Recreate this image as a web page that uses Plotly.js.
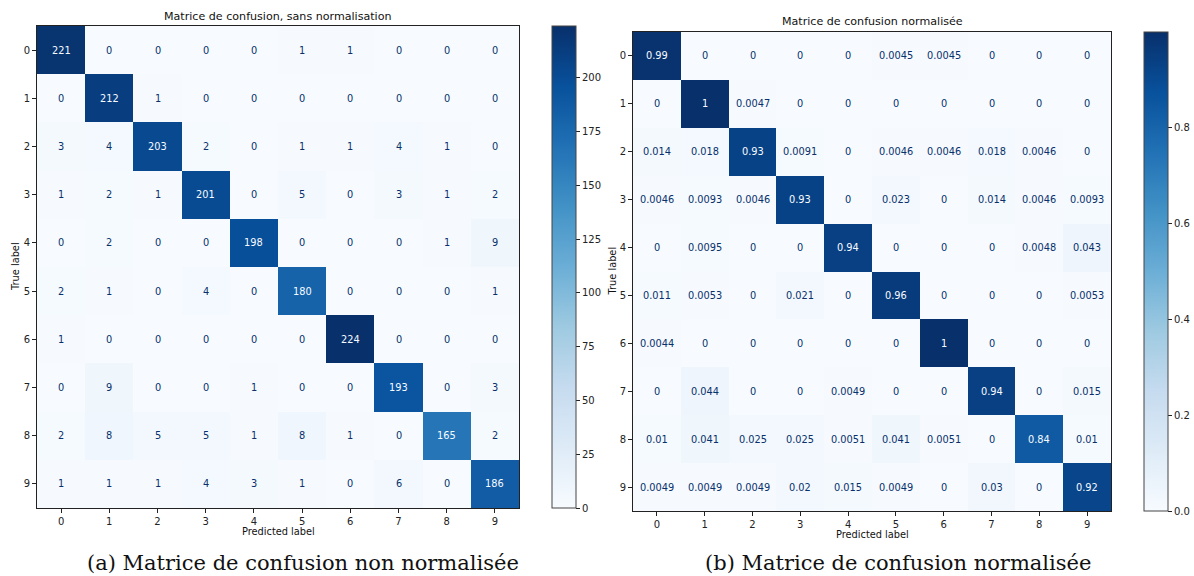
<!DOCTYPE html>
<html>
<head>
<meta charset="utf-8">
<script src="https://cdn.plot.ly/plotly-3.0.1.min.js"></script>
<style>html,body{margin:0;padding:0;background:#fff;}#chart{width:1194px;height:576px;}</style>
</head>
<body>
<div id="chart"></div>
<script>
// ---- data ----
const labels = [0,1,2,3,4,5,6,7,8,9];
const countsMatrix = [
  [221,0,0,0,0,1,1,0,0,0],
  [0,212,1,0,0,0,0,0,0,0],
  [3,4,203,2,0,1,1,4,1,0],
  [1,2,1,201,0,5,0,3,1,2],
  [0,2,0,0,198,0,0,0,1,9],
  [2,1,0,4,0,180,0,0,0,1],
  [1,0,0,0,0,0,224,0,0,0],
  [0,9,0,0,1,0,0,193,0,3],
  [2,8,5,5,1,8,1,0,165,2],
  [1,1,1,4,3,1,0,6,0,186]
];
const normMatrix = [
  [0.99,0,0,0,0,0.0045,0.0045,0,0,0],
  [0,1,0.0047,0,0,0,0,0,0,0],
  [0.014,0.018,0.93,0.0091,0,0.0046,0.0046,0.018,0.0046,0],
  [0.0046,0.0093,0.0046,0.93,0,0.023,0,0.014,0.0046,0.0093],
  [0,0.0095,0,0,0.94,0,0,0,0.0048,0.043],
  [0.011,0.0053,0,0.021,0,0.96,0,0,0,0.0053],
  [0.0044,0,0,0,0,0,1,0,0,0],
  [0,0.044,0,0,0.0049,0,0,0.94,0,0.015],
  [0.01,0.041,0.025,0.025,0.0051,0.041,0.0051,0,0.84,0.01],
  [0.0049,0.0049,0.0049,0.02,0.015,0.0049,0,0.03,0,0.92]
];
const titleA = "Matrice de confusion, sans normalisation";
const titleB = "Matrice de confusion normalisée";
const captionA = "(a) Matrice de confusion non normalisée";
const captionB = "(b) Matrice de confusion normalisée";
const xLabel = "Predicted label";
const yLabel = "True label";
const countTicks = [0,25,50,75,100,125,150,175,200];
const normTicks = [0,0.2,0.4,0.6,0.8];

// ---- style ----
const W = 1194, H = 576;
const blues = [
  [0,'#f7fbff'],[0.125,'#deebf7'],[0.25,'#c6dbef'],[0.375,'#9ecae1'],
  [0.5,'#6baed6'],[0.625,'#4292c6'],[0.75,'#2171b5'],[0.875,'#08519c'],[1,'#08306b']
];
const fx = p => p / W;
const fy = p => 1 - p / H;
const FONT = 'DejaVu Sans, sans-serif';
const SERIF = 'DejaVu Serif, Liberation Serif, serif';

// plot boxes in px
const boxA = {l:37, r:519, t:26, b:508, cbl:552};
const boxB = {l:633, r:1111, t:32, b:511, cbl:1144};

function maxOf(m){ return Math.max(...m.map(r => Math.max(...r))); }
const zmaxA = maxOf(countsMatrix);
const zmaxB = maxOf(normMatrix);

function cbar(box, ticks, fmt){
  return {
    x: fx(box.cbl), xanchor:'left', xref:'paper', xpad:0,
    y: fy((box.t+box.b)/2), yanchor:'middle', ypad:0,
    len: (box.b-box.t)/H, lenmode:'fraction',
    thickness: 24, thicknessmode:'pixels',
    outlinewidth: 1, outlinecolor:'#444',
    ticks:'outside', ticklen:4, tickwidth:1, tickcolor:'#222',
    tickvals: ticks, ticktext: ticks.map(fmt),
    tickfont:{family:FONT, size:10, color:'#222'}
  };
}

const traces = [
  {type:'heatmap', x:labels, y:labels, z:countsMatrix, colorscale:blues, zmin:0, zmax:zmaxA,
   xaxis:'x', yaxis:'y', hoverinfo:'skip', colorbar: cbar(boxA, countTicks, v => String(v))},
  {type:'heatmap', x:labels, y:labels, z:normMatrix, colorscale:blues, zmin:0, zmax:zmaxB,
   xaxis:'x2', yaxis:'y2', hoverinfo:'skip', colorbar: cbar(boxB, normTicks, v => v.toFixed(1))}
];

function axis(box, isX, anchor){
  return {
    domain: isX ? [fx(box.l), fx(box.r)] : [fy(box.b), fy(box.t)],
    range: isX ? [-0.5, 9.5] : [9.5, -0.5],
    tickvals: labels, ticktext: labels.map(String),
    ticks:'outside', ticklen:4, tickwidth:1, tickcolor:'#222',
    showline:true, mirror:true, linecolor:'#222', linewidth:1,
    showgrid:false, zeroline:false, anchor: anchor, fixedrange:true,
    tickfont:{family:FONT, size:10, color:'#222'}
  };
}

const annotations = [];
function cellText(matrix, xref, yref, zmax){
  matrix.forEach((row, i) => row.forEach((v, j) => {
    annotations.push({
      x: labels[j], y: labels[i], xref: xref, yref: yref, showarrow:false,
      text: String(v),
      font:{family:FONT, size:9.8, color: v > zmax/2 ? '#f7fbff' : '#08306b'}
    });
  }));
}
cellText(countsMatrix, 'x', 'y', zmaxA);
cellText(normMatrix, 'x2', 'y2', zmaxB);

function txt(text, px, py, size, family, extra){
  annotations.push(Object.assign({
    text: text, x: fx(px), y: fy(py), xref:'paper', yref:'paper',
    xanchor:'center', yanchor:'middle', showarrow:false,
    font:{family: family, size: size, color:'#111'}
  }, extra || {}));
}
txt(titleA, (boxA.l+boxA.r)/2, 17, 11.1, FONT);
txt(titleB, (boxB.l+boxB.r)/2, 22, 11.1, FONT);
txt(xLabel, (boxA.l+boxA.r)/2, 531, 9.8, FONT);
txt(xLabel, (boxB.l+boxB.r)/2, 534, 9.8, FONT);
txt(yLabel, 15, (boxA.t+boxA.b)/2, 9.8, FONT, {textangle:-90});
txt(yLabel, 612, (boxB.t+boxB.b)/2, 9.8, FONT, {textangle:-90});
txt(captionA, 303, 563, 21, SERIF);
txt(captionB, 898, 563, 21, SERIF);

const layout = {
  width: W, height: H,
  margin:{l:0, r:0, t:0, b:0},
  paper_bgcolor:'#fff', plot_bgcolor:'#fff',
  showlegend:false,
  xaxis: axis(boxA, true, 'y'),
  yaxis: axis(boxA, false, 'x'),
  xaxis2: axis(boxB, true, 'y2'),
  yaxis2: axis(boxB, false, 'x2'),
  annotations: annotations
};

Plotly.newPlot('chart', traces, layout, {displayModeBar:false, staticPlot:true});
</script>
</body>
</html>
